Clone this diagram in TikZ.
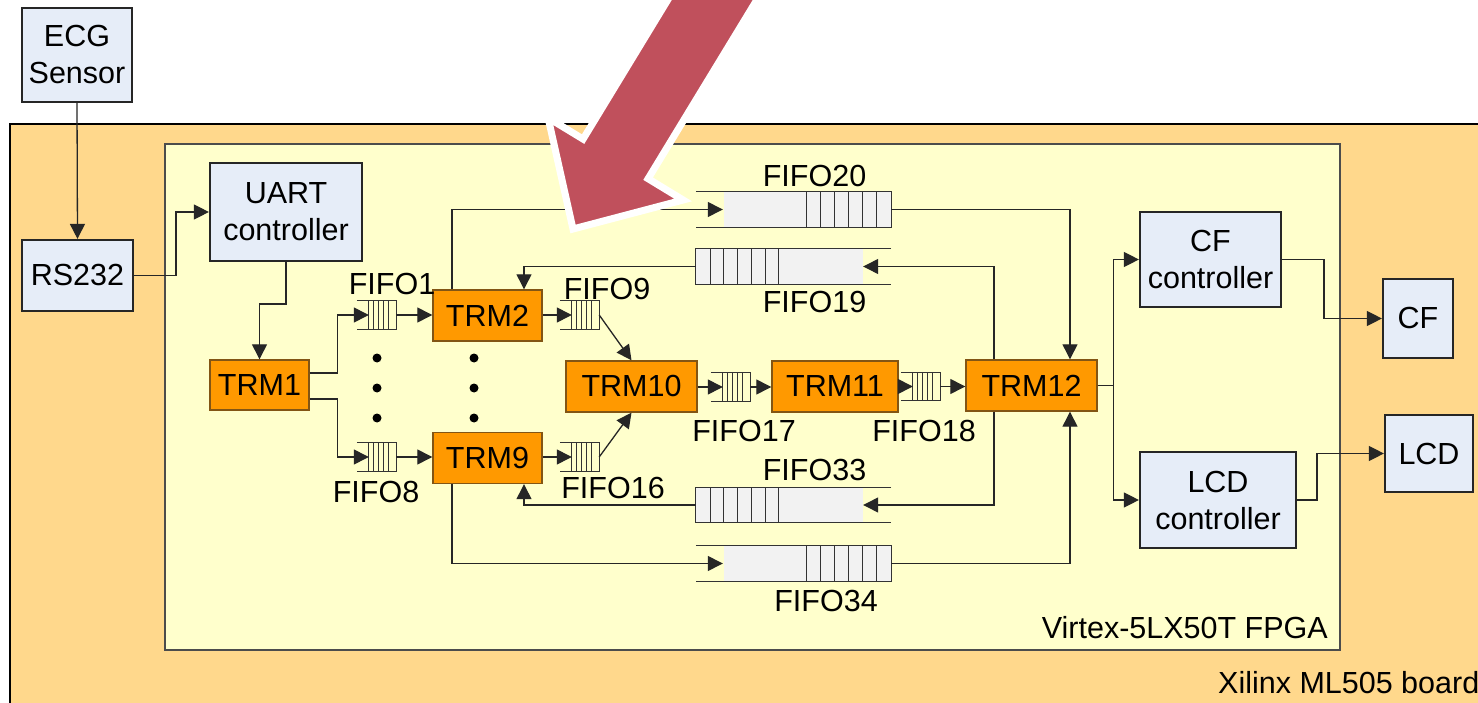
\documentclass[tikz,border=0pt]{standalone}
\usepackage{fontspec}
\setmainfont{Liberation Sans}
\usetikzlibrary{arrows.meta}
\definecolor{boxblue}{RGB}{230,237,248}
\definecolor{trmorange}{RGB}{255,153,0}
\definecolor{trmborder}{RGB}{130,85,20}
\definecolor{boardcol}{RGB}{255,216,140}
\definecolor{fpgacol}{RGB}{255,255,204}
\definecolor{fifogray}{RGB}{242,242,242}
\definecolor{bigred}{RGB}{192,80,92}
\tikzset{
  every node/.style={font=\fontsize{30.5}{37}\selectfont},
  bluebox/.style={draw=black!85, line width=2.2pt, fill=boxblue, inner sep=0pt, align=center},
  trmbox/.style={draw=trmborder, line width=1.4pt, fill=trmorange, inner sep=0pt, minimum height=51pt},
  sf/.style={inner sep=0pt, minimum width=39pt, minimum height=28pt},
  bf/.style={inner sep=0pt, minimum width=195pt, minimum height=35pt},
  fl/.style={draw=black!80, line width=1.2pt},
  conn/.style={draw=black!85, line width=1.3pt, -{Triangle[length=15pt,width=15pt]}},
  lbl/.style={inner sep=0pt},
}
\newcommand\smallfifo[2]{%
  \node[sf] (#1) at (#2) {};
  \draw[fl] (#1.north west) -- (#1.north east) -- (#1.south east) -- (#1.south west);
  \foreach \o in {12,17,22,27,32} \draw[fl] ([xshift=\o pt]#1.north west) -- ([xshift=\o pt]#1.south west);
}
\newcommand\fifoA[2]{%
  \node[bf] (#1) at (#2) {};
  \fill[fifogray] ([xshift=28pt]#1.south west) rectangle (#1.north east);
  \draw[fl] (#1.north west) -- (#1.north east) -- (#1.south east) -- (#1.south west);
  \foreach \o in {111,125,139,153,167,181} \draw[fl] ([xshift=\o pt]#1.north west) -- ([xshift=\o pt]#1.south west);
}
\newcommand\fifoB[2]{%
  \node[bf] (#1) at (#2) {};
  \fill[fifogray] (#1.south west) rectangle ([xshift=-28pt]#1.north east);
  \draw[fl] (#1.north east) -- (#1.north west) -- (#1.south west) -- (#1.south east);
  \foreach \o in {15,28,42,56,70,83} \draw[fl] ([xshift=\o pt]#1.north west) -- ([xshift=\o pt]#1.south west);
}
\begin{document}
\begin{tikzpicture}[x=1pt,y=-1pt]
\useasboundingbox (0,0) rectangle (1478,703);
\clip (0,0) rectangle (1478,703);
\fill[white] (0,0) rectangle (1478,703);
% board and FPGA
\draw[fill=boardcol, draw=black, line width=2pt] (10,124) rectangle (1495,720);
\draw[fill=fpgacol, draw=black!70, line width=1.2pt] (165,144) rectangle (1340,650);
\node[lbl, anchor=east] (fpgalbl) at (1328,628) {Virtex-5LX50T FPGA};
\node[lbl, anchor=west] (boardlbl) at (1218,683) {Xilinx ML505 board};
% blue boxes
\node[bluebox, minimum width=110pt, minimum height=94pt] (ecg) at (77,55) {ECG\\Sensor};
\node[bluebox, minimum width=111pt, minimum height=71pt] (rs) at (77.5,275.5) {RS232};
\node[bluebox, minimum width=152pt, minimum height=98pt] (uart) at (286,212) {UART\\controller};
\node[bluebox, minimum width=141pt, minimum height=95pt] (cfc) at (1210.5,259.5) {CF\\controller};
\node[bluebox, minimum width=156pt, minimum height=96pt] (lcdc) at (1218,500) {LCD\\controller};
\node[bluebox, minimum width=70pt, minimum height=79pt] (cf) at (1418,318.5) {CF};
\node[bluebox, minimum width=88pt, minimum height=77pt] (lcd) at (1429,453.5) {LCD};
% TRM boxes
\node[trmbox, minimum width=99pt, minimum height=50pt] (trm1) at (259.5,385) {TRM1};
\node[trmbox, minimum width=109pt] (trm2) at (487.5,315.5) {TRM2};
\node[trmbox, minimum width=109pt] (trm9) at (487.5,458) {TRM9};
\node[trmbox, minimum width=131pt] (trm10) at (631.5,386.5) {TRM10};
\node[trmbox, minimum width=126pt] (trm11) at (835,386.5) {TRM11};
\node[trmbox, minimum width=131pt] (trm12) at (1031.5,385.5) {TRM12};
% small FIFOs
\smallfifo{f1}{376.5,315}
\smallfifo{f8}{376.5,457}
\smallfifo{f9}{579.5,315}
\smallfifo{f16}{579.5,457}
\smallfifo{f17}{730.5,387}
\smallfifo{f18}{920.5,386.5}
% big FIFOs
\fifoA{f20}{793.5,209.5}
\fifoB{f19}{793.5,266.5}
\fifoB{f33}{793.5,505}
\fifoA{f34}{793.5,563.5}
% FIFO labels
\node[lbl] (l1) at (392,284) {FIFO1};
\node[lbl] (l8) at (376,492) {FIFO8};
\node[lbl] (l9) at (607,289) {FIFO9};
\node[lbl] (l16) at (613,488) {FIFO16};
\node[lbl] (l17) at (744,431) {FIFO17};
\node[lbl] (l18) at (924,431) {FIFO18};
\node[lbl] (l20) at (814.5,176) {FIFO20};
\node[lbl] (l19) at (814.5,302) {FIFO19};
\node[lbl] (l33) at (814.5,470) {FIFO33};
\node[lbl] (l34) at (826,601) {FIFO34};
% dots
\foreach \yy in {358,388,418} {
  \fill (377,\yy) circle (4.5pt);
  \fill (474,\yy) circle (4.5pt);
}
% connectors
\draw[conn] (ecg.south) -- (rs.north);
\draw[conn] (rs.east) -- ++(42,0) |- (uart.west);
\draw[conn] (uart.south) -- ++(0,42) -| (trm1.north);
\draw[conn] ([yshift=12pt]trm1.east) -- ++(28,0) |- ([xshift=12pt]f1.west);
\draw[conn] ([yshift=-14pt]trm1.east) -- ++(28,0) |- ([xshift=12pt]f8.west);
\draw[conn] (f1.east) -- (f1.east -| trm2.west);
\draw[conn] (f8.east) -- (f8.east -| trm9.west);
\draw[conn] (trm2.east |- f9.west) -- ([xshift=12pt]f9.west);
\draw[conn] (trm9.east |- f16.west) -- ([xshift=12pt]f16.west);
\draw[conn] (f9.east) -- (trm10.north);
\draw[conn] (f16.east) -- (trm10.south);
\draw[conn] (trm10.east |- f17.west) -- ([xshift=12pt]f17.west);
\draw[conn] (f17.east) -- (f17.east -| trm11.west);
\draw[conn] (trm11.east |- f18.west) -- ([xshift=12pt]f18.west);
\draw[conn] (f18.east) -- (f18.east -| trm12.west);
\draw[conn] ([xshift=-35.5pt]trm2.north) |- ([xshift=27pt]f20.west);
\draw[conn] (f20.east) -| ([xshift=38.5pt]trm12.north);
\draw[conn] ([xshift=-37.5pt]trm12.north) |- ([xshift=-28pt]f19.east);
\draw[conn] (f19.west) -| ([xshift=36.5pt]trm2.north);
\draw[conn] ([xshift=-37.5pt]trm12.south) |- ([xshift=-28pt]f33.east);
\draw[conn] (f33.west) -| ([xshift=36.5pt]trm9.south);
\draw[conn] ([xshift=-35.5pt]trm9.south) |- ([xshift=27pt]f34.west);
\draw[conn] (f34.east) -| ([xshift=38.5pt]trm12.south);
\draw[conn] (trm12.east) -- ++(16,0) |- (cfc.west);
\draw[conn] (trm12.east) -- ++(16,0) |- (lcdc.west);
\draw[conn] (cfc.east) -- ++(42,0) |- (cf.west);
\draw[conn] (lcdc.east) -- ++(20,0) |- (lcd.west);
% big red arrow
\draw[fill=bigred, draw=white, line width=7pt, line join=miter]
  (573,229) -- (683.1,200) -- (648.1,178.7) -- (804.1,-77.8) -- (739.1,-117.4)
  -- (583.1,139.1) -- (548.1,117.8) -- cycle;
\end{tikzpicture}
\end{document}
